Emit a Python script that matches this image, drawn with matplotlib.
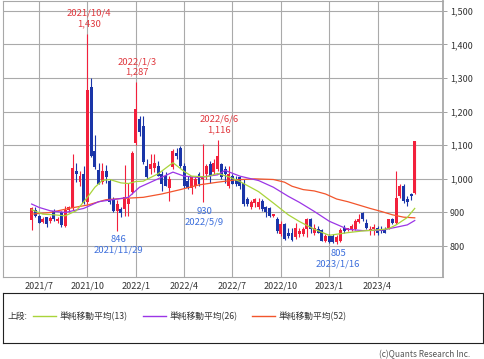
import numpy as np
import pandas as pd
import matplotlib
matplotlib.use("Agg")
import matplotlib.pyplot as plt

plt.rcParams['font.family'] = ['Noto Sans CJK JP', 'DejaVu Sans']

# weekly candles, first week 2021/6/21
dates = pd.date_range('2021-06-21', periods=104, freq='W-MON')

opens = [877, 908, 890, 872, 885, 875, 905, 874, 900, 860, 908, 912, 1024, 990, 1014, 930,
         1273, 1083, 1027, 992, 1024, 994, 940, 905, 910, 910, 925, 960, 1108, 1177, 1157, 1039,
         1029, 1033, 1038, 1014, 1009, 974, 1034, 1078, 1093, 1039, 994, 974, 979, 1014, 999, 1014,
         1044, 1019, 1029, 1044, 1029, 979, 1009, 999, 1004, 989, 939, 915, 929, 915, 935, 915,
         912, 888, 880, 836, 865, 840, 840, 826, 836, 836, 851, 882, 840, 850, 848, 816,
         831, 830, 813, 816, 855, 849, 850, 850, 872, 897, 870, 848, 850, 855, 852, 852,
         855, 880, 870, 949, 979, 940, 954, 957]
highs = [916, 915, 893, 886, 887, 888, 910, 886, 904, 918, 920, 1073, 1048, 1024, 1038, 1430,
         1301, 1130, 1048, 1048, 1040, 999, 945, 938, 915, 1040, 989, 1083, 1287, 1187, 1187, 1058,
         1073, 1073, 1053, 1024, 1019, 1009, 1088, 1093, 1098, 1048, 1009, 1009, 1004, 1020, 1103, 1044,
         1053, 1058, 1116, 1048, 1038, 1038, 1014, 1009, 1009, 999, 945, 937, 944, 944, 940, 920,
         915, 895, 885, 875, 870, 855, 855, 870, 855, 857, 884, 884, 865, 860, 852, 836,
         836, 836, 832, 855, 862, 855, 865, 880, 894, 902, 880, 860, 866, 860, 860, 858,
         880, 884, 1023, 984, 984, 949, 958, 1112]
lows = [849, 885, 868, 868, 858, 870, 876, 870, 858, 858, 902, 908, 990, 980, 924, 925,
        1064, 1029, 984, 985, 988, 925, 900, 846, 885, 890, 890, 955, 1100, 1128, 1044, 999,
        1014, 1019, 1009, 964, 979, 935, 1029, 1058, 1033, 974, 969, 954, 974, 980, 930, 999,
        989, 1014, 1024, 999, 989, 974, 984, 979, 970, 920, 920, 910, 915, 910, 905, 885,
        885, 885, 840, 830, 819, 825, 815, 820, 826, 831, 826, 840, 832, 840, 815, 812,
        809, 810, 805, 812, 840, 845, 845, 848, 869, 875, 850, 832, 832, 832, 840, 838,
        852, 865, 867, 944, 928, 920, 936, 955]
closes = [912, 890, 870, 882, 866, 884, 880, 882, 862, 906, 916, 1032, 1014, 1009, 927, 1263,
          1068, 1034, 984, 1024, 1004, 930, 905, 925, 897, 945, 939, 1078, 1207, 1138, 1049, 1004,
          1044, 1048, 1009, 984, 979, 999, 1083, 1068, 1039, 979, 974, 1004, 999, 984, 1009, 1039,
          1009, 1048, 1068, 1004, 1014, 1014, 984, 984, 979, 925, 925, 930, 939, 932, 910, 900,
          890, 894, 845, 865, 821, 830, 819, 855, 845, 850, 882, 850, 855, 840, 816, 831,
          813, 813, 827, 848, 845, 855, 860, 875, 880, 880, 855, 852, 857, 840, 845, 840,
          880, 868, 943, 979, 935, 930, 950, 1112]

# moving averages (week index, value)
ma13_week = [0, 3, 6, 9, 12, 15, 17, 19, 21, 24, 26, 28, 30, 34, 38, 41, 43, 47, 50, 53, 56,
             61, 65, 69, 72, 76, 80, 85, 89, 94, 96, 98, 101, 103]
ma13_val = [908, 895, 893, 890, 905, 945, 975, 995, 998, 988, 986, 992, 993, 1015, 1048, 1022,
            1008, 1006, 1016, 1006, 992, 962, 928, 893, 873, 850, 832, 840, 845, 849, 852, 863,
            885, 912]
ma26_week = [0, 2, 5, 9, 14, 18, 23, 26, 29, 34, 38, 41, 45, 50, 52, 56, 61, 65, 69, 72, 76,
             80, 85, 89, 94, 98, 101, 103]
ma26_val = [925, 915, 905, 900, 912, 932, 940, 945, 975, 1000, 1020, 1008, 1004, 1012, 1025,
            1008, 995, 975, 948, 930, 903, 874, 850, 846, 847, 856, 863, 876]
ma52_week = [0, 5, 10, 15, 20, 25, 30, 35, 40, 45, 50, 55, 60, 65, 68, 70, 73, 76, 79, 82, 85,
             88, 91, 94, 97, 100, 103]
ma52_val = [895, 900, 912, 922, 938, 942, 945, 955, 968, 982, 990, 997, 1000, 998, 990, 978,
            968, 964, 955, 940, 932, 922, 912, 903, 893, 886, 884]

high_marks = [15, 28, 50]
low_marks = [23, 46, 82]

up_color = '#f2203c'
down_color = '#1a35a8'

fig = plt.figure(figsize=(4.85, 3.59), dpi=100)
ax = fig.add_axes([3/485, 1 - 277/359, 440/485, 276/359])

x = np.arange(len(dates))
o = np.array(opens)
h = np.array(highs)
l = np.array(lows)
c = np.array(closes)
up = c >= o
colors = np.where(up, up_color, down_color)

ax.vlines(x, l, h, colors=colors, lw=0.8, zorder=3)
body = np.maximum(np.abs(c - o), 2)
ax.bar(x, body, bottom=np.minimum(o, c), width=0.8, color=colors, linewidth=0, zorder=4)

ax.plot(ma52_week, ma52_val, color='#f2552c', lw=0.9, zorder=5)
ax.plot(ma26_week, ma26_val, color='#9b35e6', lw=0.9, zorder=5)
ax.plot(ma13_week, ma13_val, color='#a9d43a', lw=0.9, zorder=5)

for i in high_marks:
    d = dates[i]
    ax.annotate('{}/{}/{}\n{:,}'.format(d.year, d.month, d.day, highs[i]), (i, highs[i]),
                xytext=(1, 4), textcoords='offset points', ha='center', va='bottom',
                fontsize=6.8, color='#e0393f', linespacing=1.25, zorder=6)
for i in low_marks:
    d = dates[i]
    ax.annotate('{:,}\n{}/{}/{}'.format(lows[i], d.year, d.month, d.day), (i, lows[i]),
                xytext=(1, -3), textcoords='offset points', ha='center', va='top',
                fontsize=6.8, color='#3d6fdc', linespacing=1.25, zorder=6)

ax.set_xlim(-7.7, 110.6)
ax.set_ylim(708, 1529)

tick_pos = [i for i, d in enumerate(dates) if d.month in (1, 4, 7, 10) and d.day <= 7]
ax.set_xticks(tick_pos)
ax.set_xticklabels(['{}/{}'.format(dates[i].year, dates[i].month) for i in tick_pos])
ax.set_yticks(range(800, 1501, 100))
ax.set_yticklabels(['{:,}'.format(v) for v in range(800, 1501, 100)])
ax.yaxis.tick_right()
ax.tick_params(axis='y', length=3, width=0.7, color='#a0a0a0', pad=2, labelsize=6.5, labelcolor='#333333')
ax.tick_params(axis='x', length=0, pad=3, labelsize=6.5, labelcolor='#333333')
ax.grid(True, color='#aaaaaa', lw=0.8)
ax.set_axisbelow(True)
for s in ax.spines.values():
    s.set_color('#a8a8a8')
    s.set_linewidth(0.8)
ax.spines['right'].set_linewidth(1.3)

# legend box
lax = fig.add_axes([3/485, 1 - 343/359, 480/485, 50/359])
lax.set_xlim(0, 480)
lax.set_ylim(0, 50)
lax.set_xticks([])
lax.set_yticks([])
for s in lax.spines.values():
    s.set_color('#222222')
    s.set_linewidth(0.8)
lax.text(5, 27, '上段:', fontsize=6.3, va='center', color='#333333')
legend_items = [('単純移動平均(13)', '#a9d43a', 30), ('単純移動平均(26)', '#9b35e6', 140),
                ('単純移動平均(52)', '#f2552c', 249)]
for label, col, x0 in legend_items:
    lax.plot([x0, x0 + 23], [27, 27], color=col, lw=1.0)
    lax.text(x0 + 27, 27, label, fontsize=6.3, va='center', color='#333333')

fig.text(470/485, 1 - 355/359, '(c)Quants Research Inc.', ha='right', va='center',
         fontsize=6, color='#555555')

fig.savefig('out.png', dpi=100)
